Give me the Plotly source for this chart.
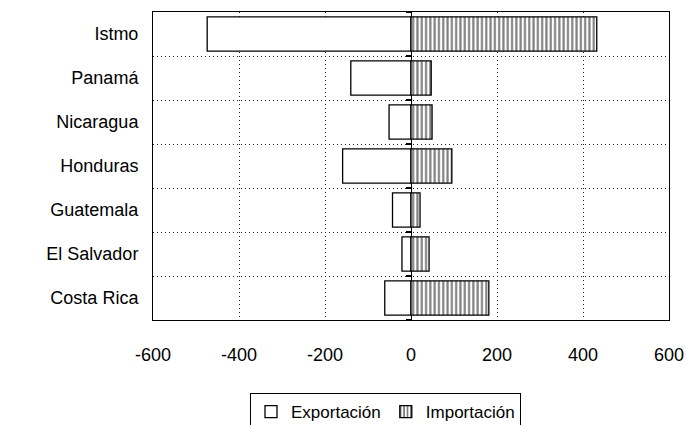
import plotly.graph_objects as go

categories = ["Costa Rica", "El Salvador", "Guatemala", "Honduras", "Nicaragua", "Panamá", "Istmo"]
exportacion = [-61, -21, -43, -159, -51, -140, -474]
importacion = [181, 42, 21, 95, 49, 47, 432]
x_ticks = [-600, -400, -200, 0, 200, 400, 600]

FONT = "Liberation Sans, Arial, sans-serif"

fig = go.Figure()
fig.add_trace(go.Bar(
    name="Exportación", y=categories, x=exportacion, orientation="h",
    marker=dict(color="white", line=dict(color="black", width=1.3)),
    yaxis="y",
))
fig.add_trace(go.Bar(
    name="Importación", y=categories, x=importacion, orientation="h",
    marker=dict(color="white", line=dict(color="black", width=1.3),
                pattern=dict(shape="|", fgcolor="black", bgcolor="white", size=4.3, solidity=0.5)),
    yaxis="y2",
))

# page body has an 8px default margin, so the figure is sized/offset to compensate
fig.update_layout(
    width=684, height=417,
    margin=dict(l=145, r=23, t=4, b=105, autoexpand=False),
    paper_bgcolor="white", plot_bgcolor="white",
    font=dict(family=FONT, size=18, color="black"),
    barmode="overlay", bargap=0.22,
    showlegend=True,
    legend=dict(orientation="h", x=0.188, xanchor="left", y=-0.237, yanchor="top",
                bordercolor="black", borderwidth=1, font=dict(size=17),
                itemwidth=30, tracegroupgap=0, traceorder="normal"),
    xaxis=dict(range=[-600, 600], tickvals=x_ticks, ticktext=[str(v) for v in x_ticks],
               showgrid=True, gridcolor="#222222", griddash="1px,3px", gridwidth=1,
               zeroline=True, zerolinecolor="black", zerolinewidth=1.2,
               showline=True, linecolor="black", linewidth=1, mirror=True,
               ticks="", ticklabelstandoff=18, fixedrange=True),
    yaxis=dict(type="category", categoryorder="array", categoryarray=categories,
               range=[-0.5, 6.5], tickson="boundaries",
               showgrid=True, gridcolor="#222222", griddash="1px,3px", gridwidth=1,
               showline=True, linecolor="black", linewidth=1, mirror=True,
               ticks="", ticklabelstandoff=10),
    yaxis2=dict(type="category", categoryorder="array", categoryarray=categories,
                range=[-0.5, 6.5], overlaying="y", anchor="free", position=0.5,
                matches="y", tickson="boundaries", showgrid=False,
                showline=False, ticks="outside", ticklen=5, tickcolor="black", tickwidth=1.5,
                showticklabels=False),
)

fig.write_html("out.html")
